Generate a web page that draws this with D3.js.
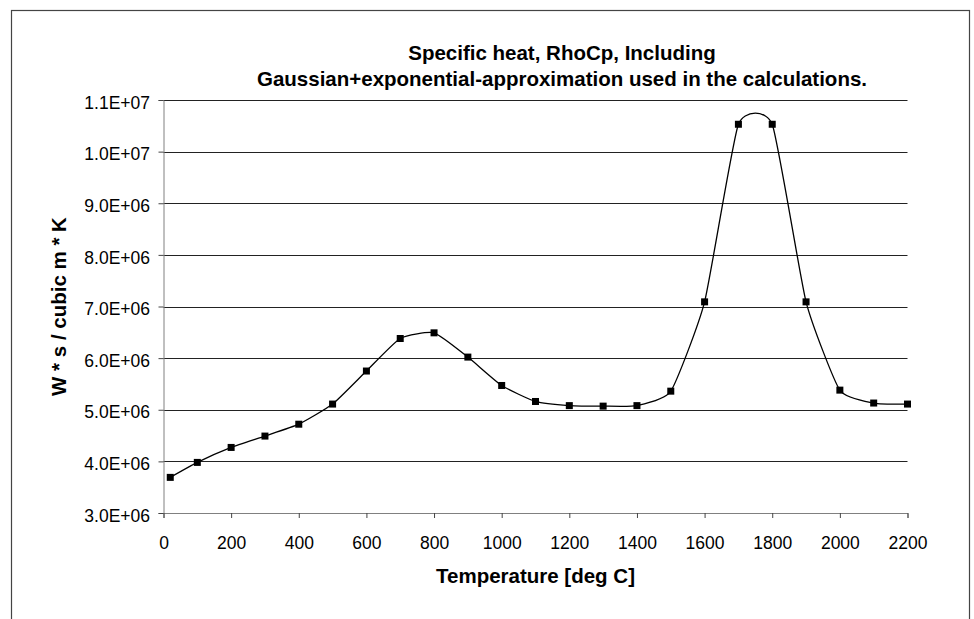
<!DOCTYPE html>
<html>
<head>
<meta charset="utf-8">
<script src="https://cdn.jsdelivr.net/npm/d3@7"></script>
<style>
    body { margin: 0; background: #fff; }
    svg { display: block; font-family: "Liberation Sans", Arial, sans-serif; }
</style>
</head>
<body>
<div id="chart"></div>
<script>
// data
const temperature = [20, 100, 200, 300, 400, 500, 600, 700, 800, 900, 1000, 1100,
    1200, 1300, 1400, 1500, 1600, 1700, 1800, 1900, 2000, 2100, 2200];
const rhoCp = [3.69e6, 3.98e6, 4.27e6, 4.49e6, 4.72e6, 5.11e6, 5.75e6, 6.38e6, 6.49e6,
    6.02e6, 5.47e6, 5.16e6, 5.08e6, 5.07e6, 5.08e6, 5.36e6, 7.09e6, 10.53e6, 10.53e6,
    7.09e6, 5.38e6, 5.13e6, 5.11e6];
const xTicks = [0, 200, 400, 600, 800, 1000, 1200, 1400, 1600, 1800, 2000, 2200];
const yTicks = [3e6, 4e6, 5e6, 6e6, 7e6, 8e6, 9e6, 10e6, 11e6];
const titleLines = ["Specific heat, RhoCp, Including",
    "Gaussian+exponential-approximation used in the calculations."];

const W = 974, H = 619;
const margin = {top: 100, right: 66.5, bottom: 106, left: 163.5};
const width = W - margin.left - margin.right;
const height = H - margin.top - margin.bottom;

const svg = d3.select("#chart").append("svg")
    .attr("width", W)
    .attr("height", H);

// outer chart border
svg.append("rect")
    .attr("x", 11.5).attr("y", 10.5)
    .attr("width", 958).attr("height", 640)
    .attr("fill", "none")
    .attr("stroke", "#444")
    .attr("stroke-width", 1.2);

const g = svg.append("g")
    .attr("transform", `translate(${margin.left},${margin.top})`);

const x = d3.scaleLinear().domain([0, 2200]).range([0, width]);
const y = d3.scaleLinear().domain([3e6, 1.1e7]).range([height, 0]);

const fmt = v => {
    let e = Math.floor(Math.log10(v));
    return (v / Math.pow(10, e)).toFixed(1) + "E+" + String(e).padStart(2, "0");
};

// gridlines
g.selectAll(".grid")
    .data(yTicks.slice(1))
    .enter().append("line")
    .attr("class", "grid")
    .attr("x1", 0).attr("x2", width)
    .attr("y1", d => Math.round(y(d)) + 0.5)
    .attr("y2", d => Math.round(y(d)) + 0.5)
    .attr("stroke", "#222")
    .attr("stroke-width", 1);

// axes
const yAxis = g.append("g")
    .call(d3.axisLeft(y).tickValues(yTicks).tickFormat(fmt).tickSize(5).tickPadding(8.5));
yAxis.selectAll("text").attr("dy", "0.47em");

const xAxis = g.append("g")
    .attr("transform", `translate(0,${height})`)
    .call(d3.axisBottom(x).tickValues(xTicks).tickFormat(d3.format("d")).tickSize(5).tickPadding(19));

[xAxis, yAxis].forEach(a => {
    a.select(".domain").attr("stroke", "#808080");
    a.selectAll(".tick line").attr("stroke", "#444");
    a.selectAll("text")
        .attr("fill", "#000")
        .style("font-size", "17.5px")
        .style("font-family", "'Liberation Sans', Arial, sans-serif");
});

// smoothed line
const line = d3.line()
    .x((d, i) => x(temperature[i]))
    .y(d => y(d))
    .curve(d3.curveCardinal.tension(0.5));

g.append("path")
    .datum(rhoCp)
    .attr("fill", "none")
    .attr("stroke", "#000")
    .attr("stroke-width", 1.3)
    .attr("d", line);

// square markers
const ms = 7;
g.selectAll(".marker")
    .data(rhoCp)
    .enter().append("rect")
    .attr("class", "marker")
    .attr("x", (d, i) => x(temperature[i]) - ms / 2)
    .attr("y", d => y(d) - ms / 2)
    .attr("width", ms).attr("height", ms)
    .attr("fill", "#000");

// titles
svg.selectAll(".title")
    .data(titleLines)
    .enter().append("text")
    .attr("class", "title")
    .attr("x", 562)
    .attr("y", (d, i) => 59.5 + i * 26.5)
    .attr("text-anchor", "middle")
    .style("font-size", "20.5px")
    .style("font-weight", "bold")
    .text(d => d);

svg.append("text")
    .attr("x", margin.left + width / 2)
    .attr("y", 583)
    .attr("text-anchor", "middle")
    .style("font-size", "20.5px")
    .style("font-weight", "bold")
    .text("Temperature [deg C]");

svg.append("text")
    .attr("transform", `translate(66,${margin.top + height / 2}) rotate(-90)`)
    .attr("text-anchor", "middle")
    .style("font-size", "20.5px")
    .style("font-weight", "bold")
    .text("W * s / cubic m * K");
</script>
</body>
</html>
